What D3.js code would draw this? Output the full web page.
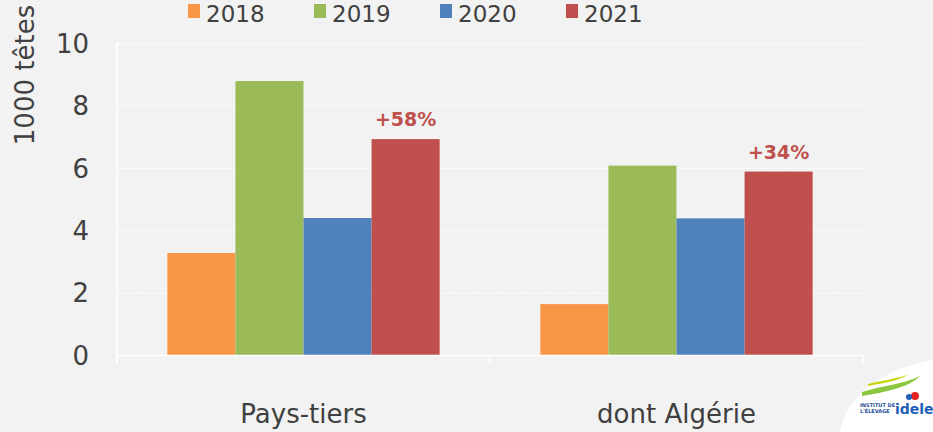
<!DOCTYPE html>
<html lang="fr">
<head>
<meta charset="UTF-8">
<script src="https://d3js.org/d3.v7.min.js"></script>
<style>
  body { margin: 0; background: #f2f2f2; }
  svg { display: block; font-family: "DejaVu Sans", sans-serif; }
</style>
</head>
<body>
<svg width="933" height="432" id="mainsvg"></svg>
<script>
// données
const categories = ['Pays-tiers', 'dont Algérie'];
const years = ['2018', '2019', '2020', '2021'];
const v2018 = [3.27, 1.63];
const v2019 = [8.78, 6.07];
const v2020 = [4.39, 4.38];
const v2021 = [6.92, 5.88];
const evolution = ['+58%', '+34%'];
const yTicks = [0, 2, 4, 6, 8, 10];
const colors = ['#f79646', '#9bbb59', '#4f81bd', '#c0504d'];

const series = [v2018, v2019, v2020, v2021];

const svg = d3.select('#mainsvg');
const width = +svg.attr('width');
const height = +svg.attr('height');
const margin = { top: 43, right: 70, bottom: 77, left: 117 };

svg.append('rect').attr('width', width).attr('height', height).attr('fill', '#f2f2f2');

const x0 = d3.scaleBand()
    .domain(categories)
    .range([margin.left, width - margin.right])
    .paddingInner(0.27)
    .paddingOuter(0.135);

const x1 = d3.scaleBand()
    .domain(years)
    .range([0, x0.bandwidth()]);

const y = d3.scaleLinear()
    .domain([0, 10])
    .range([height - margin.bottom, margin.top]);

// grille
const yAxis = d3.axisLeft(y)
    .tickValues(yTicks)
    .tickSize(-(width - margin.left - margin.right))
    .tickPadding(28);
const gy = svg.append('g')
    .attr('transform', `translate(${margin.left},0)`)
    .call(yAxis);
gy.select('.domain').remove();
gy.selectAll('.tick line')
    .attr('stroke', '#ffffff')
    .attr('stroke-width', 1)
    .attr('stroke-dasharray', '4,2');
gy.selectAll('.tick text')
    .attr('font-size', '26px')
    .attr('fill', '#404040')
    .attr('font-family', '"DejaVu Sans", sans-serif')
    .attr('dy', '0.36em');

// axe vertical
svg.append('line')
    .attr('x1', margin.left).attr('x2', margin.left)
    .attr('y1', margin.top).attr('y2', y(0) + 8)
    .attr('stroke', '#ffffff').attr('stroke-width', 1.5);

// barres
const groups = svg.selectAll('.grp').data(categories).enter().append('g')
    .attr('class', 'grp')
    .attr('transform', d => `translate(${x0(d)},0)`);

groups.selectAll('rect')
    .data((d, i) => years.map((yr, j) => ({ yr, value: series[j][i], j })))
    .enter().append('rect')
    .attr('x', d => x1(d.yr))
    .attr('width', x1.bandwidth())
    .attr('y', d => y(d.value))
    .attr('height', d => y(0) - y(d.value))
    .attr('fill', d => colors[d.j]);

// étiquettes 2021
groups.append('text')
    .text((d, i) => evolution[i])
    .attr('x', x1('2021') + x1.bandwidth() / 2)
    .attr('y', (d, i) => y(v2021[i]) - 13)
    .attr('text-anchor', 'middle')
    .attr('font-size', '19px')
    .attr('font-weight', 'bold')
    .attr('fill', '#c0504d');

// axe horizontal
const xAxis = d3.axisBottom(x0).tickSize(0).tickPadding(50);
const gx = svg.append('g')
    .attr('transform', `translate(0,${y(0)})`)
    .call(xAxis);
gx.select('.domain').attr('stroke', '#ffffff').attr('stroke-width', 1.5);
gx.selectAll('.tick text')
    .attr('font-size', '26px')
    .attr('fill', '#404040')
    .attr('font-family', '"DejaVu Sans", sans-serif');

// petites graduations entre catégories
const bounds = [margin.left, (x0(categories[0]) + x0.bandwidth() + x0(categories[1])) / 2, width - margin.right];
svg.selectAll('.sep').data(bounds).enter().append('line')
    .attr('x1', d => d).attr('x2', d => d)
    .attr('y1', y(0)).attr('y2', y(0) + 8)
    .attr('stroke', '#ffffff').attr('stroke-width', 1.5);

// titre axe
svg.append('text')
    .text('1000 têtes')
    .attr('transform', `translate(34,${75}) rotate(-90)`)
    .attr('text-anchor', 'middle')
    .attr('font-size', '26px')
    .attr('fill', '#404040');

// légende
const legend = svg.selectAll('.leg').data(years).enter().append('g')
    .attr('class', 'leg')
    .attr('transform', (d, i) => `translate(${188 + i * 126},0)`);
legend.append('rect')
    .attr('x', 0).attr('y', 4)
    .attr('width', 12).attr('height', 14)
    .attr('fill', (d, i) => colors[i]);
legend.append('text')
    .text(d => d)
    .attr('x', 18).attr('y', 22)
    .attr('font-size', '23px')
    .attr('fill', '#404040');

// logo idele (approximatif)
const logo = svg.append('g');
logo.append('path')
    .attr('d', 'M840,432 C846,398 878,370 933,360 L933,432 Z')
    .attr('fill', '#ffffff');
logo.append('path')
    .attr('d', 'M862,392 C880,386 905,384 920,376 C908,388 885,392 862,396 Z')
    .attr('fill', '#8dc63f');
logo.append('path')
    .attr('d', 'M868,384 C885,380 900,378 910,374 C900,380 885,383 868,386 Z')
    .attr('fill', '#c8d400');
logo.append('text')
    .text('INSTITUT DE')
    .attr('x', 860).attr('y', 407)
    .attr('font-size', '5px').attr('font-weight', 'bold').attr('fill', '#1f4e9a');
logo.append('text')
    .text("L'ÉLEVAGE")
    .attr('x', 860).attr('y', 413)
    .attr('font-size', '5px').attr('font-weight', 'bold').attr('fill', '#1f4e9a');
logo.append('text')
    .text('idele')
    .attr('x', 895).attr('y', 414)
    .attr('font-size', '14px').attr('font-weight', 'bold').attr('fill', '#1f5fb4');
logo.append('circle').attr('cx', 915).attr('cy', 396).attr('r', 4).attr('fill', '#e52421');
logo.append('circle').attr('cx', 909).attr('cy', 397).attr('r', 3).attr('fill', '#1f5fb4');
</script>
</body>
</html>
